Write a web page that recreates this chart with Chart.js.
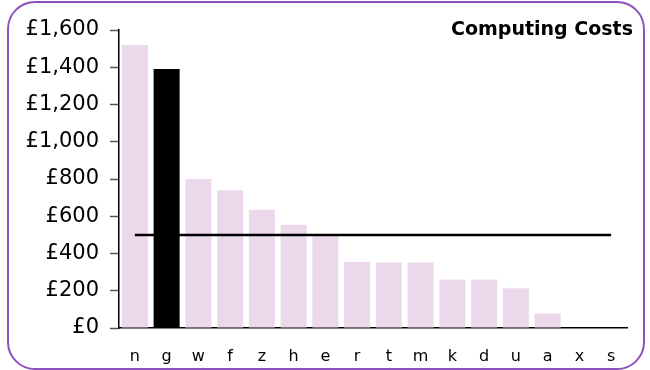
<!DOCTYPE html>
<html>
<head>
<meta charset="utf-8">
<script src="https://cdn.jsdelivr.net/npm/chart.js@4/dist/chart.umd.min.js"></script>
<style>
  html, body { margin: 0; padding: 0; background: #fff; }
  #wrap { position: relative; width: 650px; height: 370px; overflow: hidden; }
  #frame {
    position: absolute; left: 7px; top: 1px; width: 638px; height: 369px;
    border: 2px solid #8c52c0; border-radius: 28px; box-sizing: border-box;
  }
  #costChart { position: absolute; left: 0; top: 0; }
</style>
</head>
<body>
<div id="wrap">
  <div id="frame"></div>
  <canvas id="costChart" width="650" height="370"></canvas>
</div>
<script>
// cost per department, highest first
var categories = ['n', 'g', 'w', 'f', 'z', 'h', 'e', 'r', 't', 'm', 'k', 'd', 'u', 'a', 'x', 's'];
var costs = [1520, 1390, 800, 740, 635, 555, 500, 355, 352, 352, 260, 260, 213, 77, 0, 0];
var average = [500, 500, 500, 500, 500, 500, 500, 500, 500, 500, 500, 500, 500, 500, 500, 500];
var yTicks = [0, 200, 400, 600, 800, 1000, 1200, 1400, 1600];
var highlight = 'g';

var pink = 'rgb(235, 217, 235)';

var titlePlugin = {
  id: 'cornerTitle',
  afterDraw: function (chart) {
    var ctx = chart.ctx;
    ctx.save();
    ctx.font = 'bold 19px "DejaVu Sans"';
    ctx.fillStyle = '#000';
    ctx.textAlign = 'right';
    ctx.textBaseline = 'middle';
    ctx.fillText('Computing Costs', 633, 30);
    ctx.restore();
  }
};

var ctx = document.getElementById('costChart');

var costChart = new Chart(ctx, {
  type: 'bar',
  data: {
    labels: categories,
    datasets: [{
      type: 'line',
      data: average,
      borderColor: '#000',
      borderWidth: 2.5,
      pointRadius: 0,
      fill: false,
      order: 0
    }, {
      data: costs,
      backgroundColor: categories.map(function (c) { return c === highlight ? '#000' : pink; }),
      borderWidth: 0,
      categoryPercentage: 1,
      barPercentage: 0.82,
      order: 1
    }]
  },
  options: {
    responsive: false,
    animation: false,
    events: [],
    layout: { padding: { top: 30, right: 23, left: 0, bottom: 0 } },
    plugins: { legend: { display: false }, tooltip: { enabled: false } },
    scales: {
      x: {
        grid: { display: false, drawTicks: false },
        border: { display: true, color: '#000', width: 1.5 },
        ticks: { color: '#000', padding: 19, font: { family: '"DejaVu Sans"', size: 16 } },
        afterFit: function (scale) { scale.height = 42; }
      },
      y: {
        min: 0,
        max: 1600,
        afterBuildTicks: function (scale) {
          scale.ticks = yTicks.map(function (v) { return { value: v }; });
        },
        grid: { drawOnChartArea: false, tickLength: 9, color: '#555', tickWidth: 1.5 },
        border: { display: true, color: '#000', width: 1.5 },
        ticks: {
          color: '#000',
          padding: 11,
          font: { family: '"DejaVu Sans"', size: 21 },
          callback: function (v) { return '£' + v.toLocaleString('en-GB'); }
        },
        afterFit: function (scale) { scale.width = 119; }
      }
    }
  },
  plugins: [titlePlugin]
});
</script>
</body>
</html>
